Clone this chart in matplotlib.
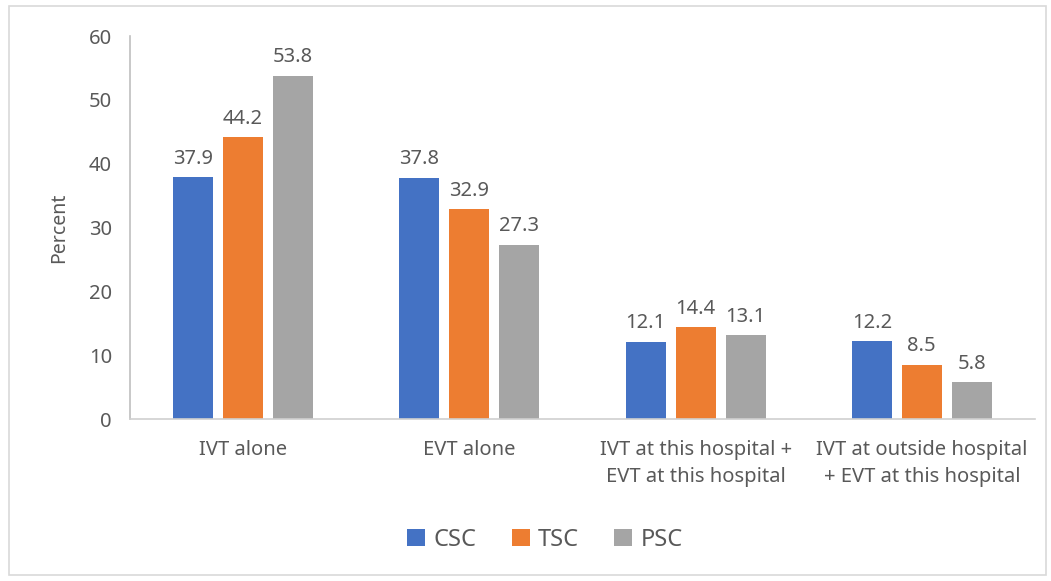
import numpy as np
import matplotlib.pyplot as plt
from matplotlib.patches import Rectangle

# data
categories = ["IVT alone", "EVT alone",
              "IVT at this hospital +\nEVT at this hospital",
              "IVT at outside hospital\n+ EVT at this hospital"]
series_names = ["CSC", "TSC", "PSC"]
csc = [37.9, 37.8, 12.1, 12.2]
tsc = [44.2, 32.9, 14.4, 8.5]
psc = [53.8, 27.3, 13.1, 5.8]
colors = ["#4472C4", "#ED7D31", "#A5A5A5"]
y_ticks = [0, 10, 20, 30, 40, 50, 60]

TEXT = "#595959"
plt.rcParams['font.family'] = ['Noto Sans', 'DejaVu Sans']

fig = plt.figure(figsize=(10.51, 5.81), dpi=100)
ax = fig.add_axes([0.1237, 0.2788, 0.861, 0.659])

x = np.arange(len(categories))
width = 0.177
step = 0.221
for i, (name, vals) in enumerate(zip(series_names, [csc, tsc, psc])):
    pos = x + (i - 1) * step
    bars = ax.bar(pos, vals, width, color=colors[i], label=name, zorder=2)
    for b, v in zip(bars, vals):
        ax.annotate(f"{v:.1f}", (b.get_x() + b.get_width() / 2, v),
                    xytext=(0, 6), textcoords="offset points",
                    ha="center", va="bottom", fontsize=14.5, color=TEXT)

ax.set_xlim(-0.5, len(categories) - 0.5)
ax.set_ylim(0, 60)
ax.set_yticks(y_ticks)
ax.set_xticks(x)
ax.set_xticklabels(categories, fontsize=14.5, color=TEXT, linespacing=1.45)
ax.tick_params(axis="y", length=0, pad=13, labelsize=14.5, labelcolor=TEXT)
ax.tick_params(axis="x", length=0, pad=15)
ax.set_ylabel("Percent", fontsize=14, color=TEXT, labelpad=14)

for s in ["top", "right"]:
    ax.spines[s].set_visible(False)
ax.spines["left"].set_color("#BFBFBF")
ax.spines["bottom"].set_color("#D0D0D0")
ax.spines["left"].set_linewidth(1.2)
ax.spines["bottom"].set_linewidth(1.2)

ax.legend(loc="center", bbox_to_anchor=(0.4586, -0.316), ncol=3, frameon=False,
          fontsize=17, handlelength=0.75, handleheight=0.75, handletextpad=0.35,
          columnspacing=1.5, labelcolor=TEXT)

fig.patches.append(Rectangle((0.009, 0.01), 0.986, 0.98, transform=fig.transFigure,
                             fill=False, edgecolor="#D9D9D9", linewidth=1.2))

fig.savefig("out.png", dpi=100)
